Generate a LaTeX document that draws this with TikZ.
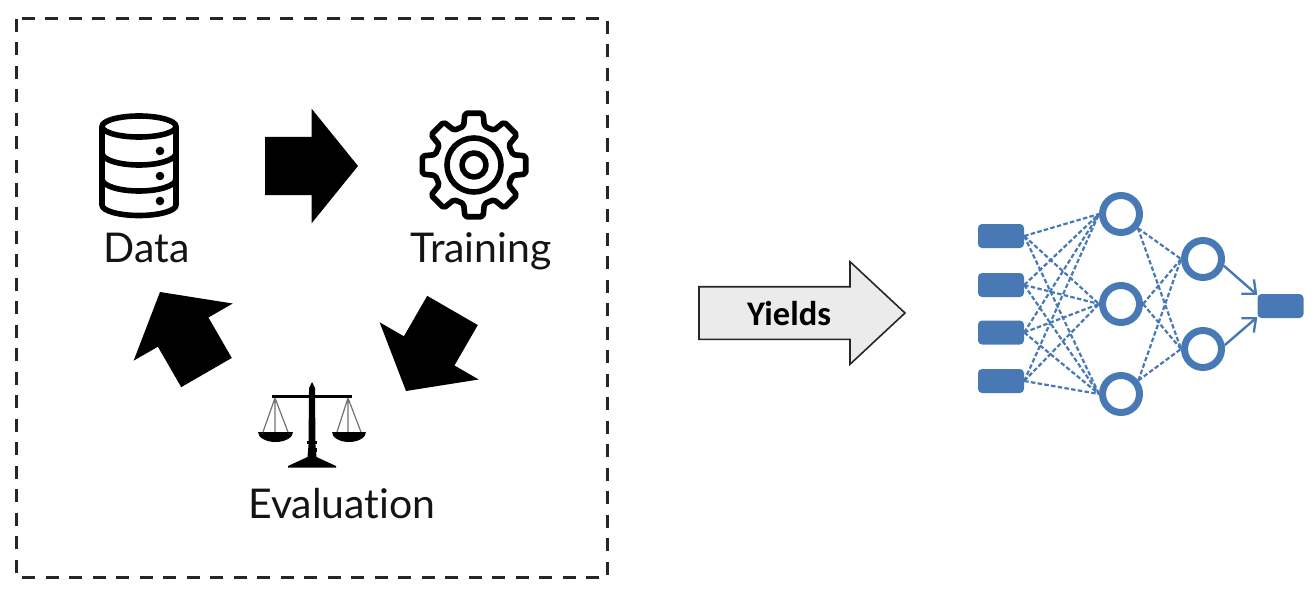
\documentclass[tikz,border=0pt]{standalone}
\usepackage{fontspec}
\setmainfont{Lato}[Ligatures=NoCommon]
\newfontfamily\yieldsfont{Carlito}
\usetikzlibrary{arrows.meta,shapes.arrows}

\definecolor{netblue}{HTML}{4879B5}
\definecolor{inkgray}{HTML}{141414}

\begin{document}
\begin{tikzpicture}[x=1pt,y=-1pt,
        bigarrow/.style={single arrow,fill=black,inner xsep=0pt,inner ysep=29pt,outer sep=0pt,
            minimum height=93pt,single arrow head extend=28pt,single arrow tip angle=102,anchor=tip},
        yieldsarrow/.style={single arrow,draw=black!85,fill=black!8,line width=1.6pt,inner xsep=0pt,
            inner ysep=25.5pt,outer sep=0pt,minimum height=206pt,single arrow head extend=25pt,
            single arrow tip angle=86,anchor=tip},
        cyclelabel/.style={font=\fontsize{41}{44}\selectfont,text=inkgray,anchor=base,inner sep=0pt},
        iconline/.style={draw=black,line width=5.6pt,line join=round},
        inputbox/.style={rectangle,rounded corners=4pt,fill=netblue,minimum width=46pt,minimum height=24pt,inner sep=0pt},
        neuron/.style={circle,draw=netblue,fill=white,line width=7pt,minimum size=37pt,inner sep=0pt},
        dashlink/.style={draw=netblue,line width=2.2pt,dash pattern=on 4.5pt off 2.3pt},
        solidlink/.style={draw=netblue,line width=2.4pt,-{Straight Barb[length=11pt,width=19pt,line width=2.4pt]}}]
    \useasboundingbox (0,0) rectangle (1315,591);

    % dashed frame
    \draw[draw=black!85,line width=3pt,dash pattern=on 13pt off 10.5pt] (16,19) rectangle (607,577);

    % cycle arrows
    \node[bigarrow] (arrowTrain) at (358,166) {};
    \node[bigarrow,rotate=240] (arrowEval) at (406,391) {};
    \node[bigarrow,rotate=120] (arrowData) at (160,292) {};

    % data icon
    \draw[iconline] (139,126.5) ellipse [x radius=37pt,y radius=10.5pt];
    \draw[iconline] (102,126.5) -- (102,205) arc [start angle=180,end angle=360,x radius=37pt,y radius=10.5pt] -- (176,126.5);
    \foreach \ypos in {153,179}
        \draw[iconline] (102,\ypos) arc [start angle=180,end angle=360,x radius=37pt,y radius=12pt];
    \foreach \ypos in {151,176,201}
        \fill (160,\ypos) circle [radius=4.3pt];
    \node[cyclelabel] (labelData) at (146.5,262) {Data};

    % training icon
    \begin{scope}[shift={(474,165)}]
        \draw[iconline,rounded corners=2pt] (22.5:40pt)
            \foreach \a in {45,90,...,360} {
                -- ({\a-15}:40pt) -- ({\a-10}:52.5pt) -- ({\a+10}:52.5pt) -- ({\a+15}:40pt)}
            -- cycle;
        \draw[iconline] (0,0) circle [radius=27pt];
        \draw[iconline] (0,0) circle [radius=12pt];
    \end{scope}
    \node[cyclelabel] (labelTrain) at (481,262) {Training};

    % evaluation icon
    \draw[draw=black!55,line width=1.2pt] (263,432) -- (275,398) -- (288,432) (275,398) -- (275,432);
    \draw[draw=black!55,line width=1.2pt] (337,432) -- (348,398) -- (361,432) (348,398) -- (348,432);
    \fill (272,394.5) rectangle (352,398);
    \fill (309,392) -- (309,388) -- (312,382) -- (315,388) -- (315,392) -- (315.5,445) -- (316.5,457) -- (336,466) -- (336,467.5)
        -- (288,467.5) -- (288,466) -- (307.5,457) -- (308.5,445) -- cycle;
    \fill (307,440.5) rectangle (317,444);
    \fill (307.5,448) rectangle (316.5,451.5);
    \fill (258,432) arc [start angle=180,end angle=360,x radius=17.5pt,y radius=10pt] -- cycle;
    \fill (332,432) arc [start angle=180,end angle=360,x radius=17pt,y radius=10pt] -- cycle;
    \node[cyclelabel] (labelEval) at (342,518) {Evaluation};

    % yields arrow
    \node[yieldsarrow] (arrowYields) at (905,313) {};
    \node[font=\yieldsfont\bfseries\fontsize{34.5}{36}\selectfont,inner sep=0pt] (labelYields) at (789,314) {Yields};

    % network
    \foreach \i/\ypos in {1/236,2/285,3/332.5,4/381}
        \node[inputbox] (in\i) at (1001,\ypos) {};
    \foreach \j/\ypos in {1/214,2/304,3/394}
        \node[neuron] (hid\j) at (1121,\ypos) {};
    \foreach \k/\ypos in {1/259,2/349}
        \node[neuron] (out\k) at (1203,\ypos) {};
    \node[inputbox] (result) at (1280.5,306) {};

    \foreach \i in {1,...,4}
        \foreach \j in {1,2,3}
            \draw[dashlink] (in\i.east) -- (hid\j.west);
    \foreach \j/\ang in {1/-40,2/0,3/38}
        \foreach \k in {1,2}
            \draw[dashlink] (hid\j.\ang) -- (out\k.west);
    \draw[solidlink] (out1.-18) -- ([yshift=11pt]result.west);
    \draw[solidlink] (out2.10) -- ([yshift=-11pt]result.west);
\end{tikzpicture}
\end{document}
